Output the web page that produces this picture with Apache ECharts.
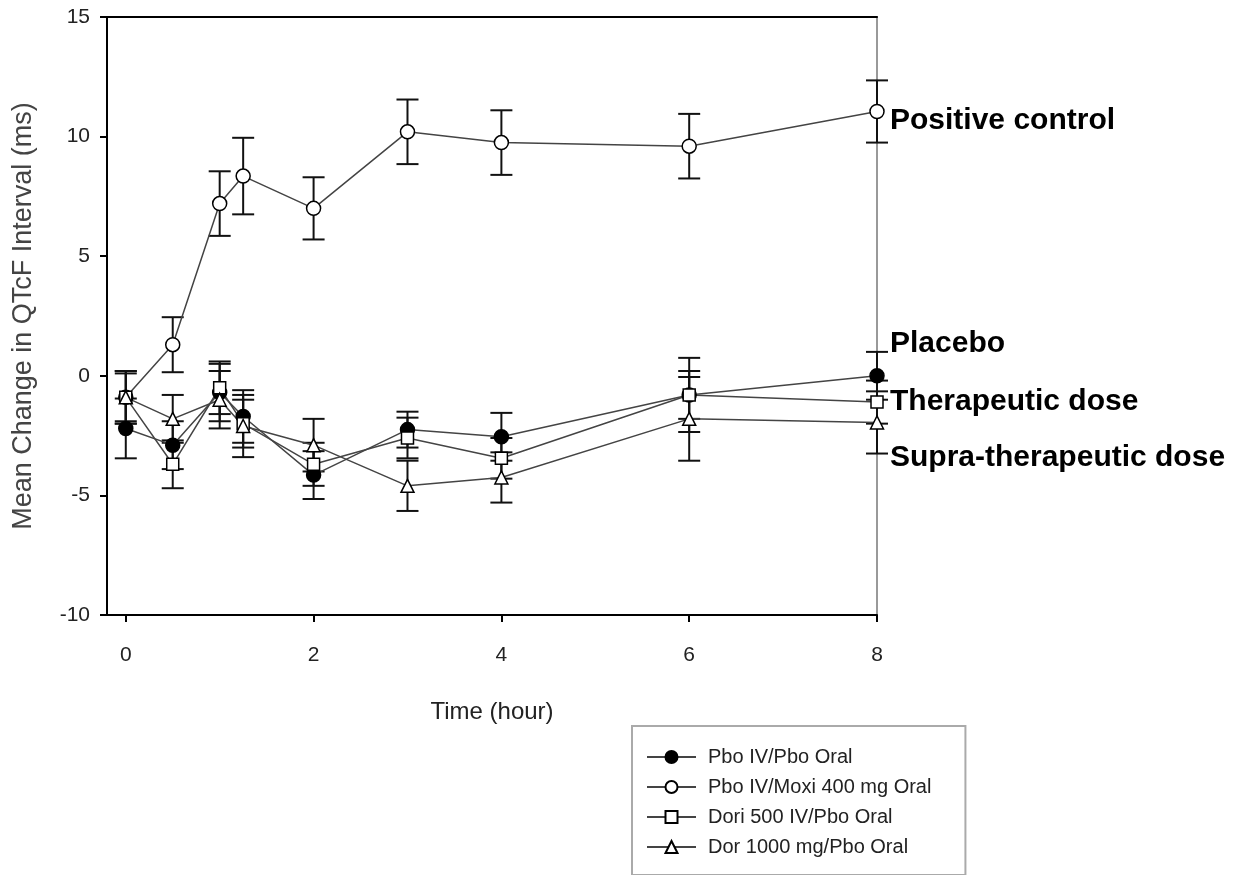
<!DOCTYPE html>
<html>
<head>
<meta charset="utf-8">
<script src="https://cdn.jsdelivr.net/npm/echarts@6/dist/echarts.min.js"></script>
<style>
  html, body { margin: 0; padding: 0; background: #fff; }
  #chart { width: 1257px; height: 875px; }
</style>
</head>
<body>
<div id="chart"></div>
<script>
var myChart = echarts.init(document.getElementById('chart'));

// 时间点 (hour)
var times = [0, 0.5, 1, 1.25, 2, 3, 4, 6, 8];
var xTicks = [0, 2, 4, 6, 8];

// 各组均值与误差
var placebo    = [-2.2, -2.9, -0.7, -1.7, -4.15, -2.25, -2.55, -0.8, 0.0];
var placeboErr = [1.25, 1.0, 1.2, 1.1, 1.0, 0.75, 1.0, 1.55, 1.0];
var moxi       = [-0.9, 1.3, 7.2, 8.35, 7.0, 10.2, 9.75, 9.6, 11.05];
var moxiErr    = [1.1, 1.15, 1.35, 1.6, 1.3, 1.35, 1.35, 1.35, 1.3];
var dori500    = [-0.9, -3.7, -0.5, -2.0, -3.7, -2.6, -3.45, -0.8, -1.1];
var dori500Err = [1.0, 1.0, 1.1, 1.0, 0.9, 0.85, 0.85, 1.0, 0.9];
var dor1000    = [-0.9, -1.8, -1.0, -2.1, -2.9, -4.6, -4.25, -1.8, -1.95];
var dor1000Err = [1.1, 1.0, 1.2, 1.3, 1.1, 1.05, 1.05, 1.75, 1.3];

var names = ['Pbo IV/Pbo Oral', 'Pbo IV/Moxi 400 mg Oral', 'Dori 500 IV/Pbo Oral', 'Dor 1000 mg/Pbo Oral'];
var endNames = ['Placebo', 'Positive control', 'Therapeutic dose', 'Supra-therapeutic dose'];

function pts(vals) {
    return times.map(function (t, i) { return [t, vals[i]]; });
}
function errPts(vals, errs) {
    return times.map(function (t, i) { return [t, vals[i] - errs[i], vals[i] + errs[i]]; });
}

// 误差线
function renderErr(params, api) {
    var x = api.value(0);
    var lo = api.coord([x, api.value(1)]);
    var hi = api.coord([x, api.value(2)]);
    var w = 11;
    var st = { stroke: '#111', lineWidth: 2 };
    return {
        type: 'group',
        children: [
            { type: 'line', shape: { x1: lo[0], y1: lo[1], x2: hi[0], y2: hi[1] }, style: st },
            { type: 'line', shape: { x1: lo[0] - w, y1: lo[1], x2: lo[0] + w, y2: lo[1] }, style: st },
            { type: 'line', shape: { x1: hi[0] - w, y1: hi[1], x2: hi[0] + w, y2: hi[1] }, style: st }
        ]
    };
}

function errSeries(vals, errs) {
    return {
        type: 'custom',
        renderItem: renderErr,
        data: errPts(vals, errs),
        z: 1,
        silent: true
    };
}

var labelFont = { fontFamily: 'Liberation Sans, Arial', fontWeight: 'bold', fontSize: 30, color: '#000' };

function lineSeries(idx, vals, symbol, size, fill, offset) {
    return {
        name: names[idx],
        type: 'line',
        data: pts(vals),
        symbol: symbol,
        symbolSize: size,
        showAllSymbol: true,
        z: 3,
        lineStyle: { color: '#444', width: 1.5 },
        itemStyle: { color: fill, borderColor: '#000', borderWidth: 1.5 },
        endLabel: Object.assign({
            show: true,
            formatter: endNames[idx],
            offset: offset,
            distance: 8
        }, labelFont)
    };
}

option = {
    animation: false,
    backgroundColor: '#fff',
    grid: { left: 107, right: 380, top: 17, bottom: 260, containLabel: false },
    legend: {
        data: names,
        orient: 'vertical',
        left: 632,
        top: 726,
        padding: [21, 34, 18, 14],
        itemGap: 10,
        itemWidth: 49,
        itemHeight: 15,
        borderColor: '#aaa',
        borderWidth: 2,
        textStyle: { fontFamily: 'Liberation Sans, Arial', fontSize: 20, color: '#222', padding: [0, 0, 0, 7] }
    },
    xAxis: [
        {
            type: 'value',
            min: -0.2,
            max: 8,
            name: 'Time (hour)',
            nameLocation: 'middle',
            nameGap: 85,
            nameTextStyle: { fontFamily: 'Liberation Sans, Arial', fontSize: 24, color: '#222' },
            axisLine: { onZero: false, lineStyle: { color: '#000', width: 2 } },
            axisTick: { show: true, length: 7, customValues: xTicks, lineStyle: { color: '#000', width: 2 } },
            axisLabel: { customValues: xTicks, margin: 30, fontFamily: 'Liberation Sans, Arial', fontSize: 21, color: '#222' },
            splitLine: { show: false }
        },
        {
            type: 'value',
            position: 'top',
            min: -0.2,
            max: 8,
            axisLine: { show: true, onZero: false, lineStyle: { color: '#000', width: 2 } },
            axisTick: { show: false },
            axisLabel: { show: false },
            splitLine: { show: false }
        }
    ],
    yAxis: [
        {
            type: 'value',
            min: -10,
            max: 15,
            interval: 5,
            name: 'Mean Change in QTcF Interval (ms)',
            nameLocation: 'middle',
            nameGap: 70,
            nameTextStyle: { fontFamily: 'Liberation Sans, Arial', fontSize: 27, color: '#444' },
            axisLine: { show: true, onZero: false, lineStyle: { color: '#000', width: 2 } },
            axisTick: { show: true, length: 7, lineStyle: { color: '#000', width: 2 } },
            axisLabel: { margin: 17, fontFamily: 'Liberation Sans, Arial', fontSize: 21, color: '#222' },
            splitLine: { show: false }
        },
        {
            type: 'value',
            position: 'right',
            min: -10,
            max: 15,
            interval: 5,
            axisLine: { show: true, onZero: false, lineStyle: { color: '#999', width: 2 } },
            axisTick: { show: false },
            axisLabel: { show: false },
            splitLine: { show: false }
        }
    ],
    series: [
        errSeries(placebo, placeboErr),
        errSeries(moxi, moxiErr),
        errSeries(dori500, dori500Err),
        errSeries(dor1000, dor1000Err),
        lineSeries(0, placebo, 'circle', 14, '#000', [5, -32]),
        lineSeries(1, moxi, 'circle', 14, '#fff', [5, 9]),
        lineSeries(2, dori500, 'rect', 12, '#fff', [5, 0]),
        lineSeries(3, dor1000, 'triangle', 13, '#fff', [5, 35])
    ]
};

myChart.setOption(option);
</script>
</body>
</html>
